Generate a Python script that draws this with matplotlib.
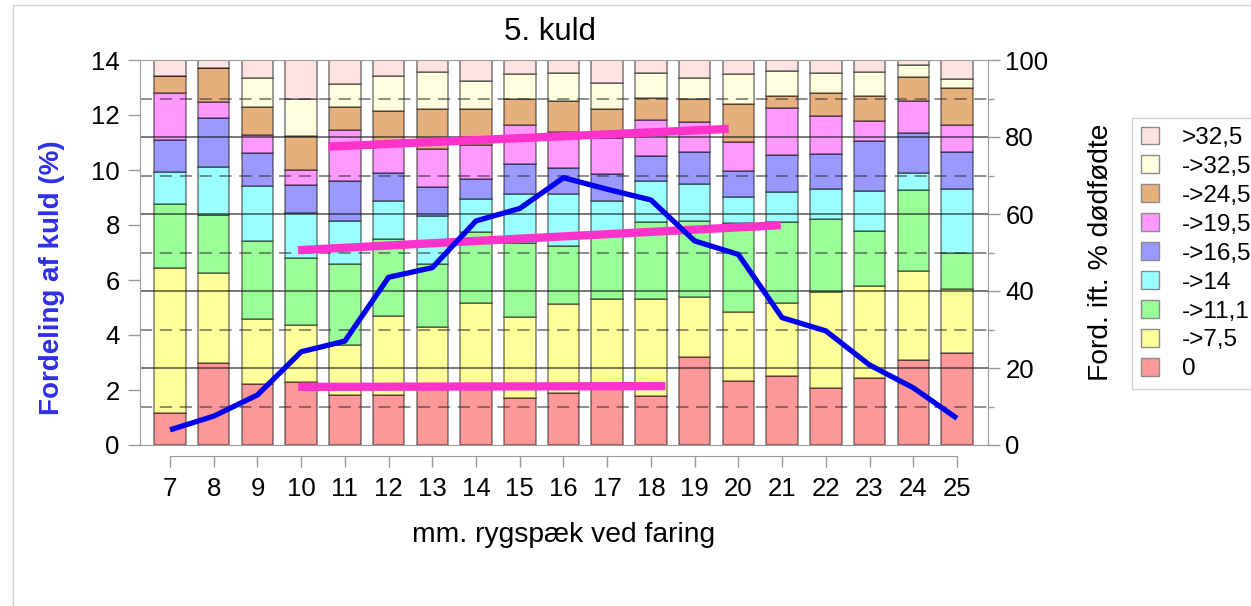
import matplotlib
matplotlib.use('Agg')
import matplotlib.pyplot as plt
from matplotlib.patches import Rectangle

plt.rcParams['font.family'] = ['Liberation Sans', 'DejaVu Sans']

# ---------------- data ----------------
categories = [7, 8, 9, 10, 11, 12, 13, 14, 15, 16, 17, 18, 19, 20, 21, 22, 23, 24, 25]
tick_labels = [str(c) for c in categories]

series_names = ['0', '->7,5', '->11,1', '->14', '->16,5', '->19,5', '->24,5', '->32,5', '>32,5']
series_colors = ['#FF9999', '#FFFF99', '#99FF99', '#99FFFF', '#9999FF',
                 '#FF99FF', '#E6AF7E', '#FFFFE0', '#FFE3E3']

# share (%) of litters in each stillborn class, per backfat value
s_0    = [8.4, 21.2, 15.8, 16.3, 13.0, 13.0, 15.5, 15.0, 12.3, 13.4, 14.8, 12.6, 22.8, 16.5, 18.0, 14.9, 17.3, 22.1, 23.8]
s_7_5  = [37.5, 23.6, 16.8, 14.8, 13.0, 20.6, 15.1, 22.0, 21.0, 23.1, 23.0, 25.2, 15.7, 18.0, 19.0, 24.9, 24.1, 23.2, 16.6]
s_11_1 = [16.6, 14.9, 20.4, 17.6, 20.9, 19.9, 16.3, 18.2, 19.1, 15.2, 16.7, 20.2, 19.8, 23.1, 20.9, 18.8, 14.2, 20.9, 9.5]
s_14   = [8.3, 12.6, 14.4, 11.5, 11.4, 9.9, 12.7, 8.7, 12.7, 13.5, 9.0, 10.6, 9.4, 6.9, 7.9, 7.9, 10.5, 4.4, 16.5]
s_16_5 = [8.4, 12.7, 8.4, 7.3, 10.4, 7.2, 7.3, 5.2, 7.9, 6.7, 6.9, 6.5, 8.3, 6.7, 9.5, 9.0, 12.9, 10.5, 9.6]
s_19_5 = [12.3, 4.2, 4.7, 3.8, 13.1, 7.3, 9.9, 8.8, 10.2, 9.5, 9.3, 9.4, 7.8, 7.4, 12.3, 10.0, 5.2, 8.3, 7.1]
s_24_5 = [4.3, 8.6, 7.4, 9.0, 6.1, 8.9, 10.4, 9.5, 6.6, 8.0, 7.5, 5.7, 6.2, 9.9, 3.0, 5.8, 6.5, 6.3, 9.5]
s_32_5 = [0.0, 0.0, 7.3, 9.7, 5.8, 9.0, 9.8, 7.2, 6.5, 7.1, 6.9, 6.3, 5.4, 7.8, 6.5, 5.4, 6.3, 3.0, 2.4]
s_gt   = [4.2, 2.2, 4.8, 10.0, 6.3, 4.2, 3.0, 5.4, 3.7, 3.5, 5.9, 3.5, 4.6, 3.7, 2.9, 3.3, 3.0, 1.3, 5.0]
series_values = [s_0, s_7_5, s_11_1, s_14, s_16_5, s_19_5, s_24_5, s_32_5, s_gt]

# share of litters (%) per backfat value (left axis)
litter_share = [0.55, 1.05, 1.82, 3.39, 3.78, 6.10, 6.45, 8.15, 8.60, 9.72, 9.30, 8.91,
                7.42, 6.93, 4.63, 4.15, 2.91, 2.08, 0.97]

# hand-drawn trend lines (x in mm, y in % of right axis)
trend_top_x = [10.62, 19.78]
trend_top_y = [77.5, 82.1]
trend_mid_x = [9.93, 20.97]
trend_mid_y = [50.6, 57.1]
trend_low_x = [9.93, 18.33]
trend_low_y = [15.1, 15.3]

# ---------------- figure ----------------
W, H = 1251, 606
fig = plt.figure(figsize=(W / 100, H / 100), dpi=100)
fig.patches.append(Rectangle((13 / W, -0.1), 1.2, 1.1 - 5 / H, transform=fig.transFigure,
                             fill=False, edgecolor='#D4D4D4', lw=1.0))

L, R, T, B = 140, 988, 60, 445
ax_line = fig.add_axes([L / W, 1 - B / H, (R - L) / W, (B - T) / H])
ax_bar = ax_line.twinx()
ax_line.set_zorder(ax_bar.get_zorder() + 1)
ax_line.patch.set_visible(False)

xmin, xmax = 6.313, 25.71
ax_line.set_xlim(xmin, xmax)
ax_bar.set_xlim(xmin, xmax)

# stacked bars
bottom = [0.0] * len(categories)
for vals, col in zip(series_values, series_colors):
    ax_bar.bar(categories, vals, bottom=bottom, width=0.72, color=col,
               edgecolor=(0, 0, 0, 0.5), linewidth=1.1, zorder=2)
    bottom = [b + v for b, v in zip(bottom, vals)]
ax_bar.set_ylim(0, 100)

# grid lines (drawn over bars)
for g in [20, 40, 60, 80]:
    ax_bar.axhline(g, color=(0.1, 0.1, 0.1, 0.75), lw=1.1, zorder=3)
for g in [10, 30, 50, 70, 90]:
    ax_bar.axhline(g, color=(0.2, 0.2, 0.2, 0.7), lw=1.1, zorder=3, linestyle=(0, (8, 5)))

# pink trend lines
for tx, ty in [(trend_top_x, trend_top_y), (trend_mid_x, trend_mid_y), (trend_low_x, trend_low_y)]:
    ax_bar.plot(tx, ty, color='#FF33CC', lw=6, solid_capstyle='butt', zorder=4)

# blue line
ax_line.plot(categories, litter_share, color='#0000EE', lw=3.8, zorder=5,
             solid_joinstyle='round', solid_capstyle='butt')
ax_line.set_ylim(0, 14)

# axes styling
spine_c = '#9A9A9A'
ax_line.set_yticks(range(0, 15, 2))
ax_line.yaxis.tick_left()
ax_line.tick_params(axis='y', direction='out', length=8.5, width=1, color=spine_c,
                    labelsize=18.5, pad=6)
ax_line.set_xticks(categories)
ax_line.set_xticklabels(tick_labels)
ax_line.tick_params(axis='x', direction='out', length=8, width=1, color=spine_c,
                    labelsize=18.5, pad=7)
ax_line.spines['bottom'].set_position(('outward', 8))
ax_line.spines['bottom'].set_bounds(7, 25)
ax_line.spines['bottom'].set_color(spine_c)
ax_line.spines['left'].set_color(spine_c)
ax_line.spines['top'].set_visible(False)
ax_line.spines['right'].set_visible(False)

ax_bar.set_yticks(range(0, 101, 20))
ax_bar.set_yticks(range(10, 100, 20), minor=True)
ax_bar.yaxis.tick_right()
ax_bar.tick_params(axis='y', which='major', direction='out', length=8.5, width=1,
                   color=spine_c, labelsize=18.5, pad=4)
ax_bar.tick_params(axis='y', which='minor', direction='out', length=4, width=1,
                   color=spine_c)
for s in ['top', 'right', 'bottom']:
    ax_bar.spines[s].set_color(spine_c)
ax_bar.spines['left'].set_visible(False)

# texts
fig.text(550 / W, 1 - 32 / H, '5. kuld', ha='center', va='center', fontsize=22.5)
fig.text(52 / W, 1 - 278 / H, 'Fordeling af kuld (%)', rotation=90, ha='center', va='center',
         fontsize=20, fontweight='bold', color='#2E2EE6')
fig.text(1101 / W, 1 - 252 / H, 'Ford. ift. % dødfødte', rotation=90, ha='center', va='center',
         fontsize=20.3)
fig.text(564 / W, 1 - 535 / H, 'mm. rygspæk ved faring', ha='center', va='center', fontsize=20.3)

# legend
handles = [Rectangle((0, 0), 1, 1, facecolor=c, edgecolor='#8C8C8C', lw=1)
           for c in series_colors][::-1]
leg = fig.legend(handles, series_names[::-1], loc='upper left',
                 bbox_to_anchor=(1132 / W, 1 - 118 / H), frameon=True, fancybox=False,
                 edgecolor='#C8C8C8', fontsize=17.5, handlelength=0.75, handleheight=0.75,
                 handletextpad=0.95, labelspacing=0.27, borderpad=0.35, borderaxespad=0)
leg.get_frame().set_linewidth(1.0)

fig.savefig('out.png', dpi=100)
